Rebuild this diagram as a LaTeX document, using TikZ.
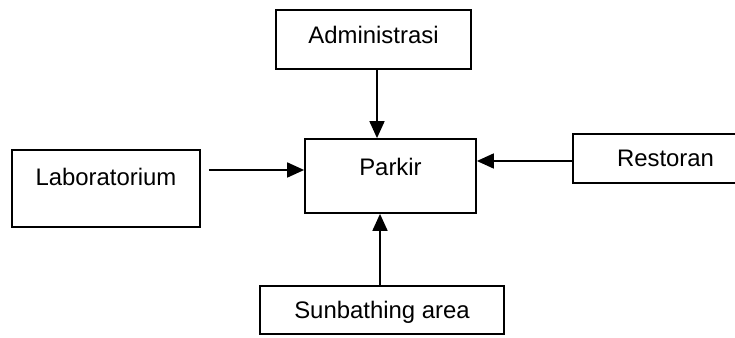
\documentclass[tikz,border=0pt]{standalone}
\usepackage{fontspec}
\setmainfont{Liberation Sans}
\usetikzlibrary{arrows.meta}
\begin{document}
\begin{tikzpicture}[
    kotak/.style={draw, line width=1pt, inner sep=0pt, font=\fontsize{13.6}{16}\selectfont, text height=0.35cm},
    panah/.style={line width=1pt, -{Triangle[length=0.34cm,width=0.3cm]}}
    ]
        \useasboundingbox (0,0) rectangle (14.7,6.76);
        \node[kotak, minimum width=3.9cm, minimum height=1.18cm, text depth=0.17cm] (admin) at (7.47,5.97) {Administrasi\hspace{0.32cm}};
        \node[kotak, minimum width=3.42cm, minimum height=1.48cm, text depth=0.37cm] (parkir) at (7.81,3.24) {Parkir};
        \node[kotak, minimum width=3.76cm, minimum height=1.54cm, text depth=0.47cm] (lab) at (2.12,2.99) {Laboratorium};
        \node[kotak, minimum width=3.7cm, minimum height=0.98cm, text depth=0.01cm] (resto) at (13.31,3.59) {Restoran\hspace{0.3cm}};
        \node[kotak, minimum width=4.88cm, minimum height=0.96cm, text depth=0.01cm] (sun) at (7.64,0.56) {Sunbathing area};
        \draw[panah] ([xshift=0.07cm]admin.south) -- ([xshift=0.07cm]admin.south |- parkir.north);
        \draw[panah] ([xshift=0.16cm]lab.east |- 0,3.36) -- (parkir.west |- 0,3.36);
        \draw[panah] (resto.west |- 0,3.54) -- (parkir.east |- 0,3.54);
        \draw[panah] (sun.north -| 7.6,0) -- (parkir.south -| 7.6,0);
    \end{tikzpicture}
\end{document}
